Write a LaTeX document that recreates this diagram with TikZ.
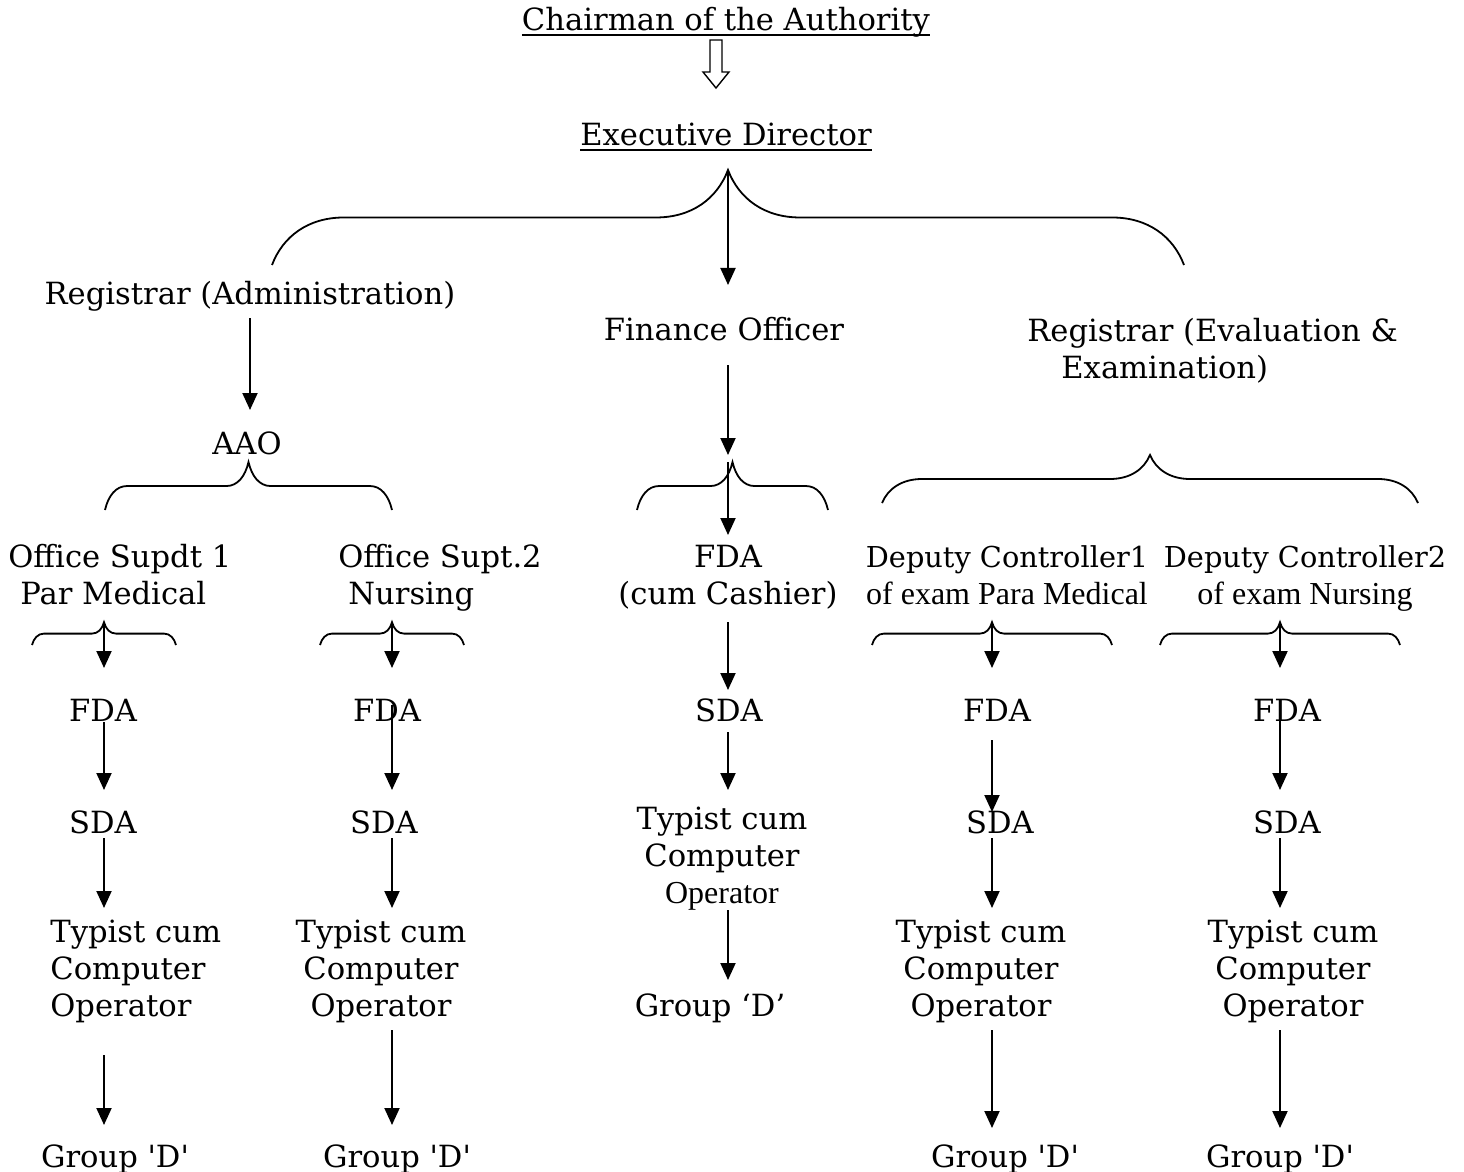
\documentclass[tikz,border=0pt]{standalone}
\usepackage{fontspec}
\newfontfamily\orgfont{DejaVu Serif}
\newfontfamily\smallfont{Liberation Serif}
\usetikzlibrary{arrows.meta,decorations.pathreplacing}
\newcommand{\subtxt}[1]{{\smallfont\fontsize{16}{18.5}\selectfont #1}}
\newcommand{\ulhead}[1]{\setbox0\hbox{#1}\rlap{\rule[-2.5pt]{\wd0}{1pt}}\box0}

\begin{document}
\begin{tikzpicture}[x=0.5pt, y=-0.5pt,
    post/.style={inner sep=0pt, anchor=base, font=\orgfont\fontsize{15.3}{18.5}\selectfont},
    narrow/.style={font=\orgfont\fontsize{14.4}{18.5}\selectfont},
    arr/.style={-{Triangle[length=8.5pt,width=7.5pt]}, line width=1pt},
    brc/.style={decorate, line width=0.9pt},
    hollow/.style={line width=0.7pt, line join=miter}]

    \useasboundingbox (0,0) rectangle (1464,1172);

    % top of the chart
    \node[post] (chair) at (726,31) {\ulhead{Chairman of the Authority}};
    \node[post] (exdir) at (726,146) {\ulhead{Executive Director}};
    \coordinate (ha) at (716,40);
    \draw[hollow] (ha) ++(-6,0) -- ++(12,0) -- ++(0,32) -- ++(7,0) -- ++(-13,16) -- ++(-13,-16) -- ++(7,0) -- cycle;

    \node[post] (regadm) at (250,305) {Registrar (Administration)};
    \node[post] (fin) at (724,341) {Finance Officer};
    \node[post, anchor=base west, align=left] (regeval) at (1027,379) {Registrar (Evaluation \&\\\hspace*{17pt}Examination)};
    \node[post] (aao) at (247,454) {AAO};

    \node[post, anchor=base west, align=left] (os1) at (8,604) {Office Supdt 1\\\hspace*{6pt}Par Medical};
    \node[post, anchor=base west, align=left] (os2) at (338,604) {Office Supt.2\\\hspace*{5pt}Nursing};
    \node[post, align=center] (fdacash) at (728,604) {FDA\\(cum Cashier)};
    \node[post, narrow, align=center] (dc1) at (1007,604) {Deputy Controller1\\\subtxt{of exam Para Medical}};
    \node[post, narrow, align=center] (dc2) at (1305,604) {Deputy Controller2\\\subtxt{of exam Nursing}};

    \node[post] (fda1) at (103,721) {FDA};
    \node[post] (fda2) at (387,721) {FDA};
    \node[post] (sda3) at (729,721) {SDA};
    \node[post] (fda4) at (997,721) {FDA};
    \node[post] (fda5) at (1287,721) {FDA};

    \node[post] (sda1) at (103,833) {SDA};
    \node[post] (sda2) at (384,833) {SDA};
    \node[post, align=center] (typ3) at (722,903) {Typist cum\\Computer\\\subtxt{Operator}};
    \node[post] (sda4) at (1000,833) {SDA};
    \node[post] (sda5) at (1287,833) {SDA};

    \node[post, anchor=base west, align=left] (typ1) at (50,1016) {Typist cum\\Computer\\Operator};
    \node[post, align=center] (typ2) at (381,1016) {Typist cum\\Computer\\Operator};
    \node[post, align=center] (typ4) at (981,1016) {Typist cum\\Computer\\Operator};
    \node[post, align=center] (typ5) at (1293,1016) {Typist cum\\Computer\\Operator};

    \node[post] (grp3) at (710,1016) {Group ‘D’};
    \node[post] (grp1) at (115,1167) {Group 'D'};
    \node[post] (grp2) at (397,1167) {Group 'D'};
    \node[post] (grp4) at (1005,1167) {Group 'D'};
    \node[post] (grp5) at (1280,1167) {Group 'D'};

    % braces
    \coordinate (tED) at (728,170);
    \coordinate (tAAO) at (248,462);
    \coordinate (tFDA) at (732,462);
    \coordinate (tDC) at (1150,455);
    \coordinate (t1) at (104,622);
    \coordinate (t2) at (392,622);
    \coordinate (t4) at (992,622);
    \coordinate (t5) at (1280,622);

    \draw[brc, decoration={brace, amplitude=36pt, transform={yscale=1.32}}] (272,265) -- (1184,265);
    \draw[brc, decoration={brace, amplitude=11pt, transform={yscale=2.18}}] (105,510) -- (392,510);
    \draw[brc, decoration={brace, amplitude=11pt, transform={yscale=2.18}}] (637,510) -- (828,510);
    \draw[brc, decoration={brace, amplitude=20pt, transform={yscale=1.2}}] (882,503) -- (1418,503);
    \draw[brc, decoration={brace, amplitude=6pt, transform={yscale=1.9}}] (32,645) -- (176,645);
    \draw[brc, decoration={brace, amplitude=6pt, transform={yscale=1.9}}] (320,645) -- (464,645);
    \draw[brc, decoration={brace, amplitude=6pt, transform={yscale=1.9}}] (872,645) -- (1112,645);
    \draw[brc, decoration={brace, amplitude=6pt, transform={yscale=1.9}}] (1160,645) -- (1400,645);

    % arrows
    \draw[arr] (tED) -- ([yshift=28pt]fin.base -| tED);
    \draw[arr] ([yshift=-6.5pt]regadm.base) -- ([yshift=22pt]aao.base -| regadm);
    \draw[arr] ([yshift=-12pt]fin.base -| tED) -- ([yshift=3.5pt]tFDA -| tED);
    \draw[arr] (tFDA -| tED) -- ([yshift=34.5pt]fdacash.base -| tED);

    \foreach \t/\n in {t1/fda1, t2/fda2, t4/fda4, t5/fda5}
        \draw[arr] (\t) -- ([yshift=26.5pt]\n.base -| \t);

    \draw[arr] ([yshift=-0.5pt]fda1.base -| t1) -- ([yshift=21.5pt]sda1.base -| t1);
    \draw[arr] ([yshift=8pt]fda2.base -| t2) -- ([yshift=21.5pt]sda2.base -| t2);
    \draw[arr] ([yshift=-9pt]fdacash.base -| tED) -- ([yshift=15.5pt]sda3.base -| tED);
    \draw[arr] ([yshift=-9.5pt]fda4.base -| t4) -- ([yshift=10.5pt]sda4.base -| t4);
    \draw[arr] ([yshift=8pt]fda5.base -| t5) -- ([yshift=21.5pt]sda5.base -| t5);

    \foreach \t/\a/\b in {t1/sda1/typ1, t2/sda2/typ2, t4/sda4/typ4, t5/sda5/typ5}
        \draw[arr] ([yshift=-2.5pt]\a.base -| \t) -- ([yshift=54pt]\b.base -| \t);
    \draw[arr] ([yshift=-5.5pt]sda3.base -| tED) -- ([yshift=56.5pt]typ3.base -| tED);

    \draw[arr] ([yshift=-19.5pt]typ1.base -| t1) -- ([yshift=21pt]grp1.base -| t1);
    \draw[arr] ([yshift=-7pt]typ2.base -| t2) -- ([yshift=21pt]grp2.base -| t2);
    \draw[arr] ([yshift=-3.5pt]typ3.base -| tED) -- ([yshift=18pt]grp3.base -| tED);
    \draw[arr] ([yshift=-7pt]typ4.base -| t4) -- ([yshift=19.5pt]grp4.base -| t4);
    \draw[arr] ([yshift=-7pt]typ5.base -| t5) -- ([yshift=19.5pt]grp5.base -| t5);
\end{tikzpicture}
\end{document}
